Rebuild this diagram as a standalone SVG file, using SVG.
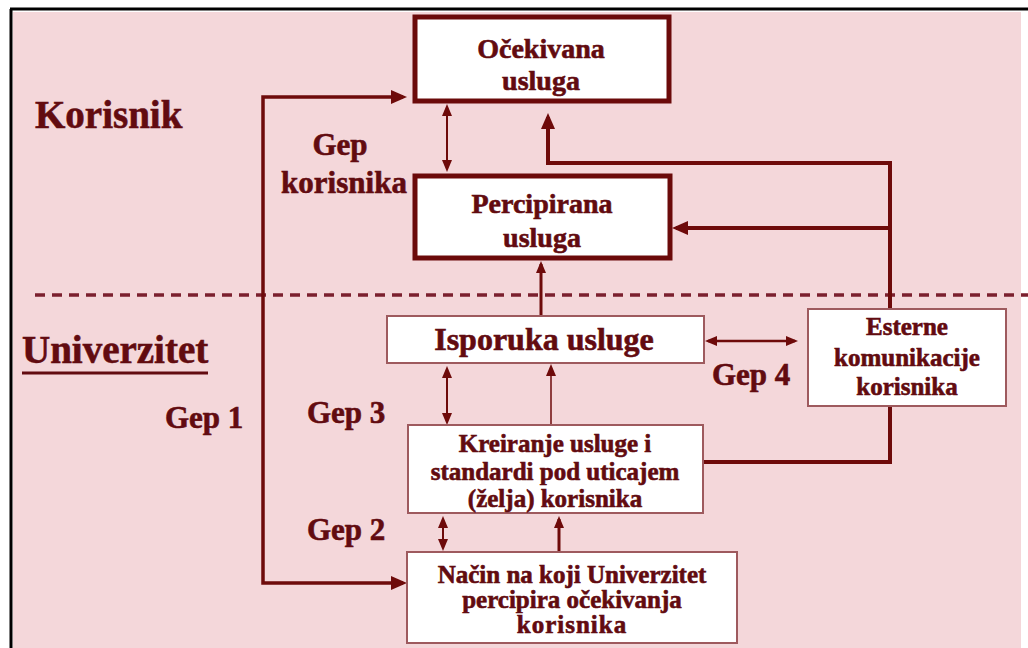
<svg xmlns="http://www.w3.org/2000/svg" width="1028" height="648" viewBox="0 0 1028 648">
  <style>
    .lbl { font-family: "Liberation Serif", "Times New Roman", serif; font-weight: bold; fill: #620B10; stroke: #620B10; stroke-width: 0.6; }
    .ctr { text-anchor: middle; }
    .main { fill: #FFFFFF; stroke: #6B0A0A; stroke-width: 5; }
    .sub { fill: #FFFFFF; stroke: #9E5A5E; stroke-width: 2; }
    .wire { fill: none; stroke: #6E0A0A; }
  </style>
  <defs>
    <marker id="headBig" markerUnits="userSpaceOnUse" markerWidth="16" markerHeight="14" refX="12" refY="7" orient="auto-start-reverse">
      <path d="M0,0 L16,7 L0,14 z" fill="#6E0A0A"/>
    </marker>
    <marker id="headSmall" markerUnits="userSpaceOnUse" markerWidth="12" markerHeight="10" refX="9" refY="5" orient="auto-start-reverse">
      <path d="M0,0 L12,5 L0,10 z" fill="#6E0A0A"/>
    </marker>
  </defs>

  <!-- frame and background -->
  <rect x="0" y="0" width="1028" height="648" fill="#FFFFFF"/>
  <rect x="13" y="12" width="1008" height="636" fill="#F4D7DA"/>
  <line x1="10" y1="9" x2="1028" y2="9" stroke="#000000" stroke-width="3"/>
  <line x1="11" y1="9" x2="11" y2="648" stroke="#000000" stroke-width="3"/>

  <!-- boundary between the two sides -->
  <line x1="35" y1="295" x2="1028" y2="295" stroke="#7B1F2E" stroke-width="3.5" stroke-dasharray="10 7"/>

  <!-- side labels -->
  <text class="lbl" x="35" y="128" font-size="39">Korisnik</text>
  <text class="lbl" x="22" y="363" font-size="39">Univerzitet</text>
  <line x1="22" y1="373" x2="208" y2="373" stroke="#620B10" stroke-width="3"/>

  <!-- gap labels -->
  <text class="lbl ctr" x="340" y="155" font-size="31">Gep</text>
  <text class="lbl ctr" x="344" y="193" font-size="31">korisnika</text>
  <text class="lbl" x="165" y="428" font-size="31">Gep 1</text>
  <text class="lbl" x="307" y="423" font-size="31">Gep 3</text>
  <text class="lbl" x="307" y="540" font-size="31">Gep 2</text>
  <text class="lbl" x="712" y="385" font-size="31">Gep 4</text>

  <!-- connectors -->
  <g id="connectors">
    <path class="wire" d="M403,97 H263 V583 H403" stroke-width="3.5" marker-start="url(#headBig)" marker-end="url(#headBig)"/>
    <path class="wire" d="M447,107 V169" stroke-width="2" marker-start="url(#headSmall)" marker-end="url(#headSmall)"/>
    <path class="wire" d="M890,309 V163 H548 V117" stroke-width="4" marker-end="url(#headBig)"/>
    <path class="wire" d="M890,228 H676" stroke-width="4" marker-end="url(#headBig)"/>
    <path class="wire" d="M541,316 V264" stroke-width="3" marker-end="url(#headSmall)"/>
    <path class="wire" d="M708,341 H795" stroke-width="2.5" marker-start="url(#headSmall)" marker-end="url(#headSmall)"/>
    <path class="wire" d="M447,369 V422" stroke-width="2" marker-start="url(#headSmall)" marker-end="url(#headSmall)"/>
    <path class="wire" d="M551,425 V367" stroke-width="1.5" marker-end="url(#headSmall)"/>
    <path class="wire" d="M890,406 V462 H703" stroke-width="4"/>
    <path class="wire" d="M443,519 V548" stroke-width="2" marker-start="url(#headSmall)" marker-end="url(#headSmall)"/>
    <path class="wire" d="M559,552 V519" stroke-width="3" marker-end="url(#headSmall)"/>
  </g>

  <!-- nodes -->
  <g id="ocekivana">
    <rect class="main" x="415" y="17" width="254" height="84"/>
    <text class="lbl ctr" x="541" y="58" font-size="28">Očekivana</text>
    <text class="lbl ctr" x="541" y="90" font-size="28">usluga</text>
  </g>
  <g id="percipirana">
    <rect class="main" x="415" y="176" width="255" height="82"/>
    <text class="lbl ctr" x="542" y="213" font-size="28">Percipirana</text>
    <text class="lbl ctr" x="542" y="247" font-size="28">usluga</text>
  </g>
  <g id="isporuka">
    <rect class="sub" x="387" y="316" width="317" height="47"/>
    <text class="lbl ctr" x="544" y="350" font-size="32">Isporuka usluge</text>
  </g>
  <g id="kreiranje">
    <rect class="sub" x="408" y="425" width="295" height="88"/>
    <text class="lbl ctr" x="555" y="452" font-size="25">Kreiranje usluge i</text>
    <text class="lbl ctr" x="555" y="480" font-size="25">standardi pod uticajem</text>
    <text class="lbl ctr" x="555" y="507" font-size="25">(želja) korisnika</text>
  </g>
  <g id="nacin">
    <rect class="sub" x="407" y="552" width="330" height="91"/>
    <text class="lbl ctr" x="572" y="583" font-size="25">Način na koji Univerzitet</text>
    <text class="lbl ctr" x="572" y="608" font-size="25">percipira očekivanja</text>
    <text class="lbl ctr" x="572" y="633" font-size="25" letter-spacing="1">korisnika</text>
  </g>
  <g id="esterne">
    <rect class="sub" x="808" y="309" width="198" height="97"/>
    <text class="lbl ctr" x="907" y="335" font-size="25">Esterne</text>
    <text class="lbl ctr" x="907" y="366" font-size="25">komunikacije</text>
    <text class="lbl ctr" x="907" y="395" font-size="25">korisnika</text>
  </g>
</svg>
